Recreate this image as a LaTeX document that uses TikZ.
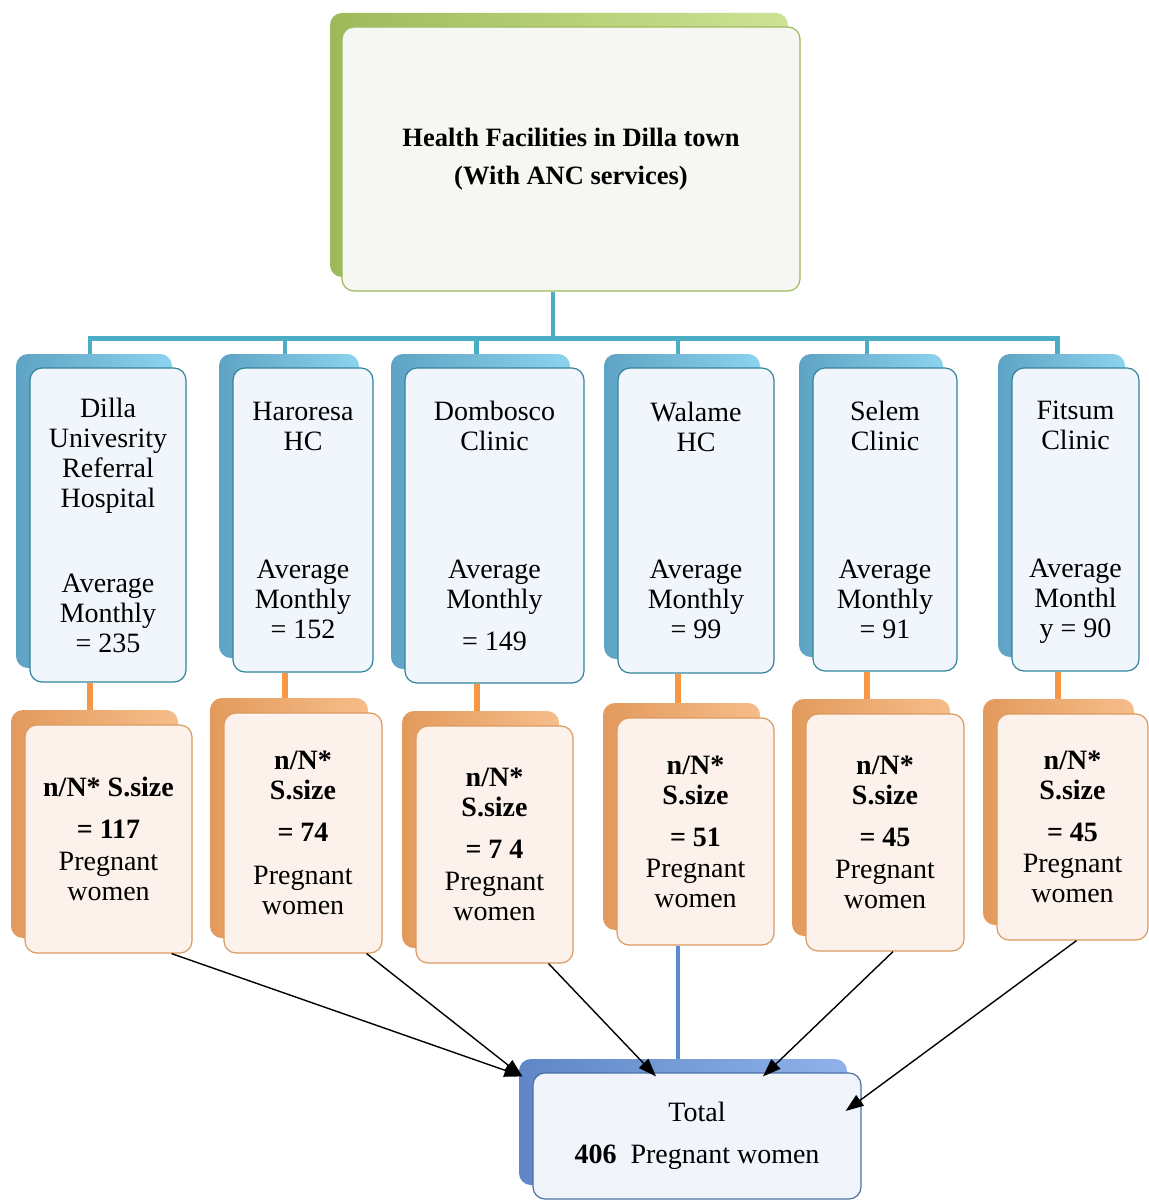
\documentclass[tikz,border=0pt]{standalone}
\usepackage{fontspec}
\setmainfont{Liberation Serif}
\usetikzlibrary{shapes,arrows.meta,positioning,calc,shadows,backgrounds}

\definecolor{treeblue}{HTML}{4BACC6}
\definecolor{blueline}{HTML}{31849B}
\definecolor{bluefill}{HTML}{F0F6FC}
\definecolor{blueshlight}{HTML}{8CD3EE}
\definecolor{blueshdark}{HTML}{5FA3C4}
\definecolor{barorange}{HTML}{F79646}
\definecolor{orangeline}{HTML}{DB9A5E}
\definecolor{orangefill}{HTML}{FDF1EB}
\definecolor{orangeshlight}{HTML}{F6BD8A}
\definecolor{orangeshdark}{HTML}{E39A5C}
\definecolor{greenline}{HTML}{9BBB59}
\definecolor{greenfill}{HTML}{F6F7F2}
\definecolor{greenshlight}{HTML}{CDE394}
\definecolor{greenshdark}{HTML}{9DBA5A}
\definecolor{totalline}{HTML}{4A6FA5}
\definecolor{totalfill}{HTML}{F1F4FA}
\definecolor{totalshlight}{HTML}{8FB2EA}
\definecolor{totalshdark}{HTML}{5F86C6}
\definecolor{walameblue}{HTML}{5B8BD0}

\begin{document}
\begin{tikzpicture}[x=1pt,y=-1pt,
    box/.style={draw,rectangle,rounded corners=12pt,inner sep=0pt,align=center,
        line width=1.2pt,font=\fontsize{28}{30}\selectfont},
    facility/.style={box,draw=blueline,fill=bluefill,
        copy shadow={shadow xshift=-14pt,shadow yshift=14pt,draw=none,
            left color=blueshdark,right color=blueshlight}},
    sample/.style={box,draw=orangeline,fill=orangefill,
        copy shadow={shadow xshift=-14pt,shadow yshift=15pt,draw=none,
            left color=orangeshdark,right color=orangeshlight}},
    tree/.style={draw=treeblue,line width=4.5pt},
    bar/.style={draw=barorange,line width=6pt},
    arr/.style={-{Triangle[length=18pt,width=13pt]},line width=1.4pt}]
    \useasboundingbox (0,0) rectangle (1148,1201);

    \node[box,draw=greenline,fill=greenfill,minimum width=458pt,minimum height=264pt,
        font=\fontsize{26.5}{38}\selectfont\bfseries,
        copy shadow={shadow xshift=-12pt,shadow yshift=14pt,draw=none,
            left color=greenshdark,right color=greenshlight}]
        (title) at (571,159) {Health Facilities in Dilla town\\(With ANC services)};

    \node[facility,minimum width=156pt,minimum height=314pt] (dilla) at (108,525)
        {Dilla\\Univesrity\\Referral\\Hospital\\[55pt]Average\\Monthly\\= 235};
    \node[facility,minimum width=140pt,minimum height=304pt] (haroresa) at (303,520)
        {Haroresa\\HC\\[98pt]Average\\Monthly\\= 152};
    \node[facility,minimum width=179pt,minimum height=315pt] (dombosco) at (494.5,525.5)
        {Dombosco\\Clinic\\[98pt]Average\\Monthly\\[12pt]= 149};
    \node[facility,minimum width=156pt,minimum height=305pt] (walame) at (696,520.5)
        {Walame\\HC\\[97pt]Average\\Monthly\\= 99};
    \node[facility,minimum width=144pt,minimum height=303pt] (selem) at (885,519.5)
        {Selem\\Clinic\\[98pt]Average\\Monthly\\= 91};
    \node[facility,minimum width=127pt,minimum height=303pt] (fitsum) at (1075.5,519.5)
        {Fitsum\\Clinic\\[98pt]Average\\Monthl\\\smash{y = 90}};

    \node[sample,minimum width=167pt,minimum height=228pt] (dillaS) at (108.5,839)
        {\textbf{n/N* S.size}\\[12pt]\textbf{= 117}\\[2pt]Pregnant\\women};
    \node[sample,minimum width=158pt,minimum height=240pt] (haroresaS) at (303,833)
        {\textbf{n/N*}\\\textbf{S.size}\\[12pt]\textbf{= 74}\\[13pt]Pregnant\\women};
    \node[sample,minimum width=157pt,minimum height=237pt] (domboscoS) at (494.5,844.5)
        {\textbf{n/N*}\\\textbf{S.size}\\[12pt]\textbf{= 7 4}\\[2pt]Pregnant\\women};
    \node[sample,minimum width=157pt,minimum height=227pt] (walameS) at (695.5,831.5)
        {\textbf{n/N*}\\\textbf{S.size}\\[12pt]\textbf{= 51}\\[1pt]Pregnant\\women};
    \node[sample,minimum width=158pt,minimum height=237pt] (selemS) at (885,832.5)
        {\textbf{n/N*}\\\textbf{S.size}\\[12pt]\textbf{= 45}\\[2pt]Pregnant\\women};
    \node[sample,minimum width=151pt,minimum height=226pt] (fitsumS) at (1072.5,827)
        {\textbf{n/N*}\\\textbf{S.size}\\[12pt]\textbf{= 45}\\[1pt]Pregnant\\women};

    \node[box,draw=totalline,fill=totalfill,minimum width=328pt,minimum height=126pt,
        copy shadow={shadow xshift=-14pt,shadow yshift=14pt,draw=none,
            left color=totalshdark,right color=totalshlight}]
        (total) at (697,1136) {Total\\[12pt]\textbf{406}\ \ Pregnant women};

    \begin{scope}[on background layer]
    \foreach \f in {dilla,haroresa,dombosco,walame,selem,fitsum}
        \draw[tree] ([xshift=-18pt]title.south) -- ++(0,47) -| ([xshift=-18pt]\f.north);
    \foreach \f in {dilla,haroresa,dombosco,walame,selem,fitsum}
        \draw[bar] ([xshift=-18pt]\f.south) -- ([xshift=-18pt]\f.south |- \f S.north);
    \draw[walameblue,line width=4pt] ([xshift=-18pt]walameS.south) -- ([xshift=-18pt]walameS.south |- total.north);
    \end{scope}

    \draw[arr] ([xshift=-21pt]dillaS.south east) -- ([xshift=-10pt,yshift=-4pt]total.north west);
    \draw[arr] ([xshift=-16pt]haroresaS.south east) -- ([xshift=-10pt,yshift=-4pt]total.north west);
    \draw[arr] ([xshift=-25pt]domboscoS.south east) -- ([xshift=-41pt,yshift=-4pt]total.north);
    \draw[arr] ([xshift=8pt]selemS.south) -- ([xshift=66pt,yshift=-4pt]total.north);
    \draw[arr] ([xshift=4pt]fitsumS.south) -- ([xshift=-16pt,yshift=25pt]total.east);
\end{tikzpicture}
\end{document}
